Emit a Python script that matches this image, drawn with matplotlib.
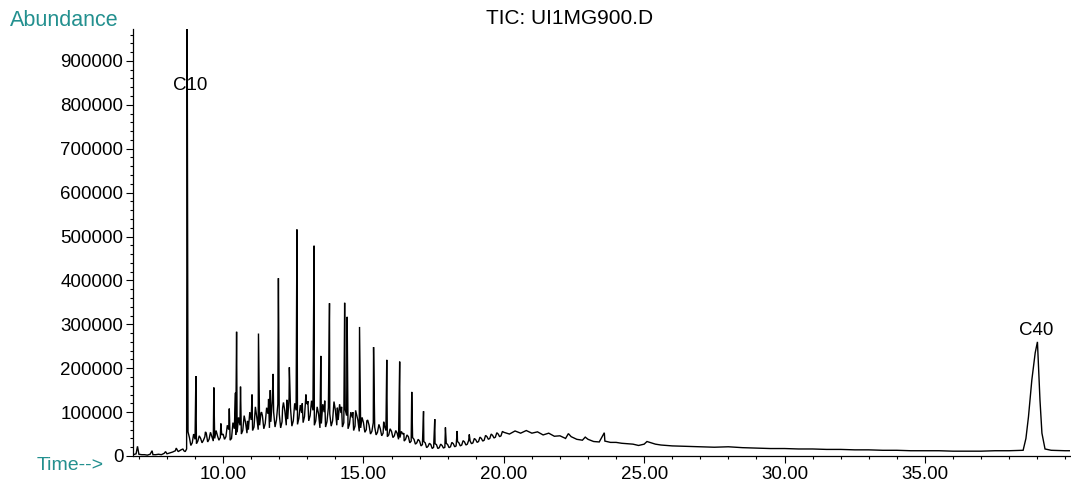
import numpy as np
import matplotlib
matplotlib.use("Agg")
import matplotlib.pyplot as plt
from matplotlib.ticker import MultipleLocator

plt.rcParams['font.family'] = ['Liberation Sans', 'DejaVu Sans']

# =======================
# Data (abundance in thousands, time in minutes)
# =======================
# early baseline 6.8 - 8.5 min, step 0.1
t_early = np.round(np.arange(6.8, 8.55, 0.1), 2)
v_early = [3, 5, 4, 3, 3, 2, 4, 3, 3, 4, 3, 6, 5, 7, 9, 12, 10, 14]

# hump / noise band 8.6 - 20.0 min, step 0.1
t_hump = np.round(np.arange(8.6, 20.05, 0.1), 2)
v_hump = [12, 16, 42, 30, 38, 34, 40, 36, 52, 38,
          44, 40, 46, 42, 50, 44, 60, 40, 62, 54,
          70, 58, 76, 60, 82, 66, 88, 70, 92, 74,
          96, 78, 100, 82, 96, 78, 102, 84, 110, 80,
          104, 86, 98, 90, 118, 92, 104, 80, 96, 74,
          100, 78, 96, 80, 104, 82, 98, 76, 92, 72,
          88, 68, 82, 64, 76, 60, 70, 56, 66, 54,
          62, 52, 58, 48, 56, 46, 52, 42, 50, 38,
          44, 34, 38, 30, 34, 26, 30, 22, 26, 20,
          26, 19, 24, 20, 26, 21, 28, 23, 30, 25,
          32, 27, 34, 30, 37, 33, 40, 36, 44, 40,
          47, 43, 50, 46, 54]

# in-between noise points 8.65 - 19.95 min, step 0.1
t_hump_mid = np.round(np.arange(8.65, 20.0, 0.1), 2)
v_hump_mid = [10, 55, 24, 50, 28, 46, 30, 44, 32, 54,
              34, 58, 36, 48, 38, 70, 36, 76, 48, 88,
              50, 92, 52, 100, 58, 112, 60, 98, 62, 110,
              64, 125, 66, 118, 64, 122, 70, 132, 68, 120,
              72, 116, 76, 140, 80, 126, 70, 112, 64, 118,
              66, 110, 68, 124, 70, 118, 66, 106, 62, 100,
              58, 96, 56, 88, 54, 82, 50, 76, 48, 72,
              46, 68, 44, 62, 42, 58, 38, 56, 34, 48,
              30, 42, 27, 38, 23, 33, 19, 29, 17, 28,
              17, 27, 18, 29, 19, 31, 21, 33, 23, 35,
              25, 36, 28, 40, 31, 43, 34, 47, 38, 50,
              41, 53, 44, 56]

# tail 20.2 - 26.0 min, step 0.2
t_tail = np.round(np.arange(20.2, 26.05, 0.2), 2)
v_tail = [50, 57, 52, 58, 52, 55, 48, 52, 45, 46,
          40, 44, 38, 36, 38, 33, 32, 34, 31, 31,
          29, 28, 27, 24, 27, 31, 27, 25, 24, 23]

# flat baseline 26.5 - 38.5 min, step 0.5
t_flat = np.round(np.arange(26.5, 38.55, 0.5), 2)
v_flat = [22, 21, 20, 21, 19, 18, 17, 17, 16, 16, 15, 15, 14,
          14, 13, 13, 12, 12, 12, 11, 11, 11, 12, 12, 13]

# C40 peak and end of run
t_c40 = [38.6, 38.69, 38.81, 38.93, 39.01, 39.1, 39.17, 39.28, 39.5, 40.0, 40.3]
v_c40 = [40, 89, 173, 235, 260, 128, 52, 16, 13, 12, 12]

# sharp peaks (time, top)
peak_t = [6.95, 7.47, 7.95, 8.33, 8.57, 8.72,
          9.03, 9.37, 9.67, 9.92, 10.22, 10.44, 10.48, 10.62, 10.87,
          11.03, 11.26, 11.37, 11.62, 11.68, 11.78, 11.97, 12.12, 12.27,
          12.36, 12.63, 12.82, 12.97, 13.02, 13.24, 13.48, 13.62, 13.79,
          14.07, 14.22, 14.33, 14.42, 14.62, 14.72, 14.86, 15.12, 15.36,
          15.72, 15.83, 16.29, 16.44, 16.72, 17.14, 17.54, 17.92, 18.34,
          18.77, 22.3, 22.9, 23.58, 25.1, 28.0]
peak_v = [22, 12, 10, 18, 16, 1000,
          182, 55, 156, 74, 108, 144, 283, 158, 80,
          140, 279, 100, 130, 150, 187, 405, 110, 128,
          202, 516, 120, 122, 125, 479, 228, 126, 348,
          110, 112, 349, 317, 100, 104, 294, 80, 248,
          78, 219, 215, 52, 146, 102, 84, 65, 57,
          49, 51, 43, 53, 33, 21]

y_ticks = [0, 100000, 200000, 300000, 400000, 500000, 600000, 700000, 800000, 900000]
x_ticks = [10, 15, 20, 25, 30, 35]

# =======================
# Build trace
# =======================
t_all = np.concatenate([t_early, t_hump, t_hump_mid, t_tail, t_flat, t_c40, peak_t])
v_all = np.concatenate([v_early, v_hump, v_hump_mid, v_tail, v_flat, v_c40, peak_v]) * 1000
order = np.argsort(t_all, kind="stable")
t_all, v_all = t_all[order], v_all[order]

teal = "#23908f"

fig = plt.figure(figsize=(10.71, 4.83), dpi=100)
W, H = 1071, 483
ax = fig.add_axes([133 / W, 1 - 456 / H, (1070 - 133) / W, (456 - 29) / H])

ax.plot(t_all, v_all, color="black", lw=1.0, solid_joinstyle="miter")

ax.set_xlim(6.79, 40.17)
ax.set_ylim(0, 972700)

ax.set_xticks(x_ticks)
ax.set_xticklabels([f"{x:.2f}" for x in x_ticks])
ax.xaxis.set_minor_locator(MultipleLocator(1))
ax.set_yticks(y_ticks)
ax.set_yticklabels([str(y) for y in y_ticks])
ax.yaxis.set_minor_locator(MultipleLocator(20000))

ax.tick_params(which="major", direction="out", length=5, width=0.8, labelsize=13.5, pad=2)
ax.tick_params(which="minor", direction="out", length=2.5, width=0.8)
for s in ("top", "right"):
    ax.spines[s].set_visible(False)
for s in ("left", "bottom"):
    ax.spines[s].set_linewidth(0.9)

ax.text(8.82, 845000, "C10", ha="center", va="center", fontsize=13.5)
ax.text(38.96, 287000, "C40", ha="center", va="center", fontsize=13.5)

fig.text(570 / W, 1 - 18 / H, "TIC: UI1MG900.D", ha="center", va="center", fontsize=15)
fig.text(10 / W, 1 - 20 / H, "Abundance", ha="left", va="center", fontsize=15.5, color=teal)
fig.text(37 / W, 1 - 466 / H, "Time-->", ha="left", va="center", fontsize=14, color=teal)

fig.savefig("out.png", dpi=100)
